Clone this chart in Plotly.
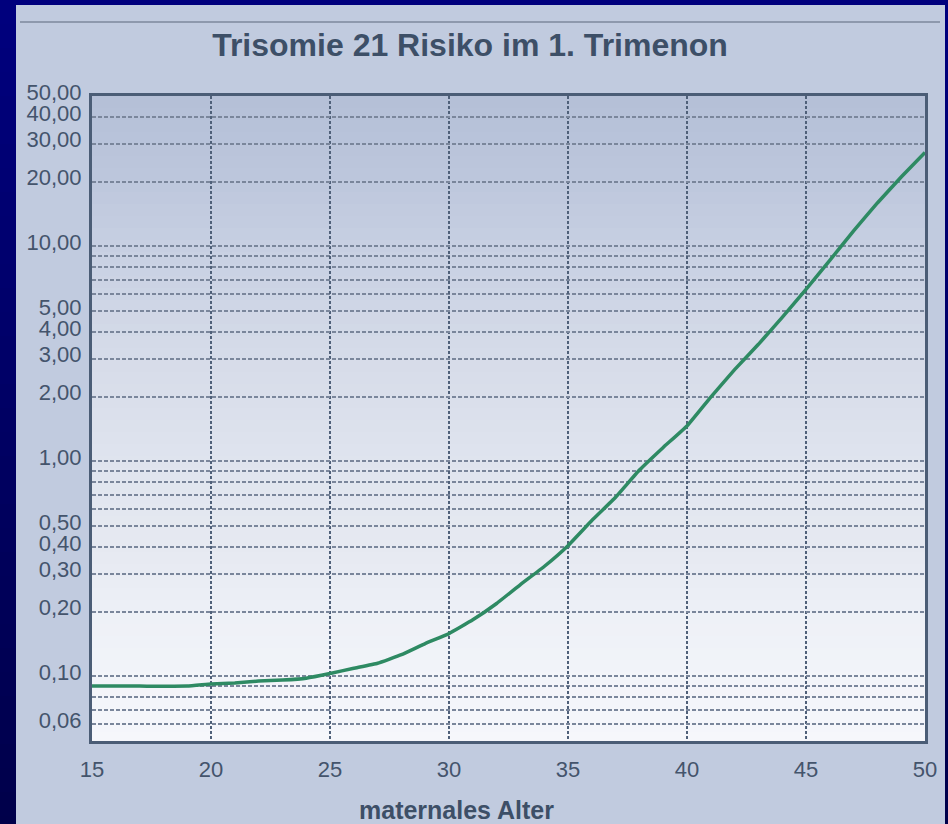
import plotly.graph_objects as go

# ---- data ----
ages = [15, 17, 19, 20, 21, 22, 23, 24, 25, 26, 27, 28, 29, 30, 31, 32, 33, 34, 35,
        36, 37, 38, 39, 40, 41, 42, 43, 44, 45, 46, 47, 48, 49, 50]
risk = [0.090, 0.090, 0.090, 0.092, 0.093, 0.095, 0.096, 0.098, 0.103, 0.109, 0.115,
        0.126, 0.142, 0.158, 0.183, 0.218, 0.267, 0.324, 0.405, 0.53, 0.68, 0.91,
        1.16, 1.46, 1.99, 2.67, 3.5, 4.67, 6.3, 8.6, 11.8, 15.9, 21.0, 27.3]

y_tickvals = [0.06, 0.1, 0.2, 0.3, 0.4, 0.5, 1, 2, 3, 4, 5, 10, 20, 30, 40, 50]
y_ticktext = ["0,06", "0,10", "0,20", "0,30", "0,40", "0,50", "1,00", "2,00", "3,00",
              "4,00", "5,00", "10,00", "20,00", "30,00", "40,00", "50,00"]
y_minor = [0.07, 0.08, 0.09, 0.6, 0.7, 0.8, 0.9, 6, 7, 8, 9]
x_tickvals = [15, 20, 25, 30, 35, 40, 45, 50]

title_text = "Trisomie 21 Risiko im 1. Trimenon"
xtitle_text = "maternales Alter"

# ---- layout geometry (pixels) ----
W, H = 948, 824
L, R, T, B = 92, 925, 96, 741
PW, PH = R - L, B - T


def px_x(px):
    return (px - L) / PW


def px_y(py):
    return (B - py) / PH


def hex2rgb(h):
    h = h.lstrip("#")
    return tuple(int(h[i:i + 2], 16) for i in (0, 2, 4))


def interp(stops, py):
    for (p0, c0), (p1, c1) in zip(stops, stops[1:]):
        if p0 <= py <= p1:
            t = (py - p0) / (p1 - p0) if p1 > p0 else 0
            a, b = hex2rgb(c0), hex2rgb(c1)
            return "rgb(%d,%d,%d)" % tuple(round(a[i] + (b[i] - a[i]) * t) for i in range(3))
    return stops[-1][1] if py > stops[-1][0] else stops[0][1]


shapes = []
# navy frame gradient
navy_stops = [(0, "#00007e"), (824, "#00004a")]
for i in range(0, 824, 24):
    shapes.append(dict(type="rect", xref="paper", yref="paper", layer="below",
                       x0=px_x(0), x1=px_x(948), y0=px_y(i + 25), y1=px_y(i),
                       fillcolor=interp(navy_stops, i + 12), line=dict(width=0)))
# light panel
shapes.append(dict(type="rect", xref="paper", yref="paper", layer="below",
                   x0=px_x(16), x1=px_x(945), y0=px_y(830), y1=px_y(5),
                   fillcolor="#c1cbdf", line=dict(width=0)))
# horizontal rule under the top edge
shapes.append(dict(type="line", xref="paper", yref="paper", layer="below",
                   x0=px_x(20), x1=px_x(940), y0=px_y(22), y1=px_y(22),
                   line=dict(color="#8e99ad", width=2)))
# plot-area gradient
bg_stops = [(96, "#b4bfd7"), (180, "#bdc7dc"), (260, "#c9d1e3"), (360, "#d6dce9"),
            (460, "#dfe4ee"), (560, "#e7eaf2"), (620, "#eef1f7"), (741, "#f6f7fb")]
step = 12
for py in range(T, B, step):
    shapes.append(dict(type="rect", xref="paper", yref="paper", layer="below",
                       x0=0, x1=1, y0=max(0, px_y(py + step + 1)), y1=px_y(py),
                       fillcolor=interp(bg_stops, py + step / 2), line=dict(width=0)))

fig = go.Figure()
fig.add_trace(go.Scatter(x=ages, y=risk, mode="lines",
                         line=dict(color="#2e8a63", width=3.5, shape="spline", smoothing=0.3),
                         showlegend=False, hoverinfo="x+y"))

tick_font = dict(family="Liberation Sans, Arial, sans-serif", size=22, color="#44546c")
grid_col = "#7a869b"

fig.update_layout(
    width=W, height=H,
    margin=dict(l=L, r=W - R, t=T, b=H - B, pad=0),
    paper_bgcolor="#00006a",
    plot_bgcolor="rgba(0,0,0,0)",
    shapes=shapes,
    title=dict(text=title_text, x=470 / W, xanchor="center", xref="container",
               y=1 - 45 / H, yanchor="middle", yref="container",
               font=dict(family="Liberation Sans, Arial, sans-serif", size=32,
                         color="#3d4f67", weight="bold")),
    annotations=[dict(text=xtitle_text, xref="paper", yref="paper",
                      x=px_x(456), y=px_y(810), xanchor="center", yanchor="middle",
                      showarrow=False,
                      font=dict(family="Liberation Sans, Arial, sans-serif", size=25,
                                color="#3d4f67", weight="bold"))],
    xaxis=dict(range=[15, 50], tickvals=x_tickvals, ticktext=[str(v) for v in x_tickvals],
               showgrid=True, gridcolor="#4f6079", gridwidth=1.5, griddash="3px,2px",
               showline=True, linecolor="#4b5d76", linewidth=3, mirror=True,
               ticks="outside", ticklen=7, tickcolor="rgba(0,0,0,0)",
               tickfont=tick_font, zeroline=False, fixedrange=True),
    yaxis=dict(type="log", range=[-1.30103, 1.69897],
               tickvals=y_tickvals, ticktext=y_ticktext,
               showgrid=True, gridcolor=grid_col, gridwidth=2, griddash="4px,2px",
               minor=dict(tickvals=y_minor, showgrid=True, gridcolor=grid_col,
                          gridwidth=2, griddash="4px,2px", ticks=""),
               showline=True, linecolor="#4b5d76", linewidth=3, mirror=True,
               ticks="outside", ticklen=3, tickcolor="rgba(0,0,0,0)",
               ticklabelshift=-4,
               tickfont=tick_font, zeroline=False, fixedrange=True),
)

fig.write_html("out.html", config={"displayModeBar": False},
               post_script="document.body.style.margin='0';document.body.style.overflow='hidden';")
